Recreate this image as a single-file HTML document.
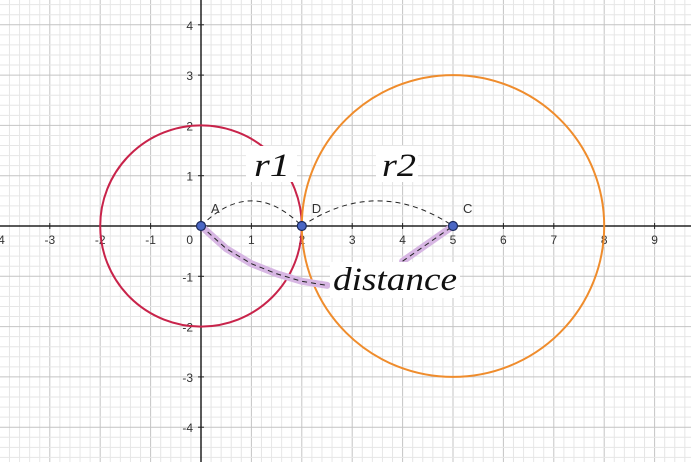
<!DOCTYPE html>
<html><head><meta charset="utf-8"><style>
html,body{margin:0;padding:0;background:#fff;}
svg{display:block;font-family:"Liberation Sans",sans-serif;}
</style></head><body>
<svg id="chart" width="691" height="462" viewBox="0 0 691 462"></svg>
<script>
const xTicks=[-4,-3,-2,-1,1,2,3,4,5,6,7,8,9];
const yTicks=[-4,-3,-2,-1,1,2,3,4];
const circleCenters=[[0,0],[5,0]];
const circleRadii=[2,3];
const circleColors=['#c8234a','#ef8c2c'];
const points=[[0,0],[2,0],[5,0]];
const pointLabels=['A','D','C'];
const arcPeaks=[0.5,0.5];
const distanceCurve=[[0,0],[0.5,-0.45],[1,-0.75],[1.5,-0.95],[2,-1.1],[2.5,-1.18]];
const svg=document.getElementById('chart');
const NS='http://www.w3.org/2000/svg';
const X=v=>201+v*50.4, Y=v=>226-v*50.3;
function mk(t,a,p){const e=document.createElementNS(NS,t);for(const k in a)e.setAttribute(k,a[k]);(p||svg).appendChild(e);return e;}
for(let i=-20;i<=70;i++){const v=i/5,x=X(v);if(x<0||x>691)continue;const maj=i%5===0;
 const l=mk('line',{x1:x,y1:0,x2:x,y2:462,stroke:maj?'#c4c4c4':'#e6e6e6','stroke-width':1});
 }
for(let i=-25;i<=25;i++){const v=i/5,y=Y(v);if(y<0||y>462)continue;const maj=i%5===0;
 const l=mk('line',{x1:0,y1:y,x2:691,y2:y,stroke:maj?'#c4c4c4':'#e6e6e6','stroke-width':1});
 }
let ax=mk('line',{x1:0,y1:Y(0),x2:691,y2:Y(0),stroke:'#222','stroke-width':1.5});

ax=mk('line',{x1:X(0),y1:0,x2:X(0),y2:462,stroke:'#222','stroke-width':1.5});

xTicks.forEach(v=>{mk('line',{x1:X(v),y1:Y(0)-3,x2:X(v),y2:Y(0)+3,stroke:'#222'});
 const t=mk('text',{x:X(v),y:Y(0)+18,'font-size':12,'text-anchor':'middle',fill:'#333'});t.textContent=v;
 });
yTicks.forEach(v=>{mk('line',{x1:X(0)-3,y1:Y(v),x2:X(0)+3,y2:Y(v),stroke:'#222'});
 const t=mk('text',{x:X(0)-8,y:Y(v)+5,'font-size':12,'text-anchor':'end',fill:'#333'});t.textContent=v;
 });
let o=mk('text',{x:X(0)-8,y:Y(0)+18,'font-size':12,'text-anchor':'end',fill:'#333'});o.textContent='0';

circleCenters.forEach((c,i)=>{const e=mk('ellipse',{cx:X(c[0]),cy:Y(c[1]),rx:circleRadii[i]*50.4,ry:circleRadii[i]*50.3,fill:'none',stroke:circleColors[i],'stroke-width':2});
 });
for(let i=0;i<2;i++){const a=points[i],b=points[i+1],mx=(a[0]+b[0])/2;
 const e=mk('path',{d:`M${X(a[0])},${Y(0)} Q${X(mx)},${Y(arcPeaks[i]*2)} ${X(b[0])},${Y(0)}`,fill:'none',stroke:'#222','stroke-dasharray':'5,4','stroke-width':1});
 }
const d='M'+distanceCurve.map(p=>X(p[0])+','+Y(p[1])).join(' L');
let e=mk('path',{d,fill:'none',stroke:'#d7b6e3','stroke-width':7,'stroke-linecap':'round','stroke-linejoin':'round'});

e=mk('path',{d,fill:'none',stroke:'#222','stroke-width':1,'stroke-dasharray':'5,4'});

const seg=`M${X(4)},${Y(-0.7)} L${X(5)},${Y(0)}`;
e=mk('path',{d:seg,fill:'none',stroke:'#d7b6e3','stroke-width':7,'stroke-linecap':'round'});

e=mk('path',{d:seg,fill:'none',stroke:'#222','stroke-width':1,'stroke-dasharray':'5,4'});

function lab(txt,x,y,name,bx,by,bw,bh,len){
 const r=mk('rect',{x:bx,y:by,width:bw,height:bh,fill:'#fff'});
 
 const t=mk('text',{x,y,'font-size':33,'font-style':'italic','font-family':'Liberation Serif,serif',fill:'#111',textLength:len,lengthAdjust:'spacingAndGlyphs'});t.textContent=txt;
 }
lab('r1',254,176,'label-r1',246,146,51,36,36);
lab('r2',382,176,'label-r2',376,146,42,36,34);
lab('distance',333,290,'label-distance',330,262,130,36,124);
points.forEach((p,i)=>{const c=mk('circle',{cx:X(p[0]),cy:Y(p[1]),r:4.5,fill:'#4a66c4',stroke:'#1c2a5c','stroke-width':1.2});
 
 const t=mk('text',{x:X(p[0])+10,y:Y(p[1])-13,'font-size':13,fill:'#333'});t.textContent=pointLabels[i];
 });
</script>
</body></html>
